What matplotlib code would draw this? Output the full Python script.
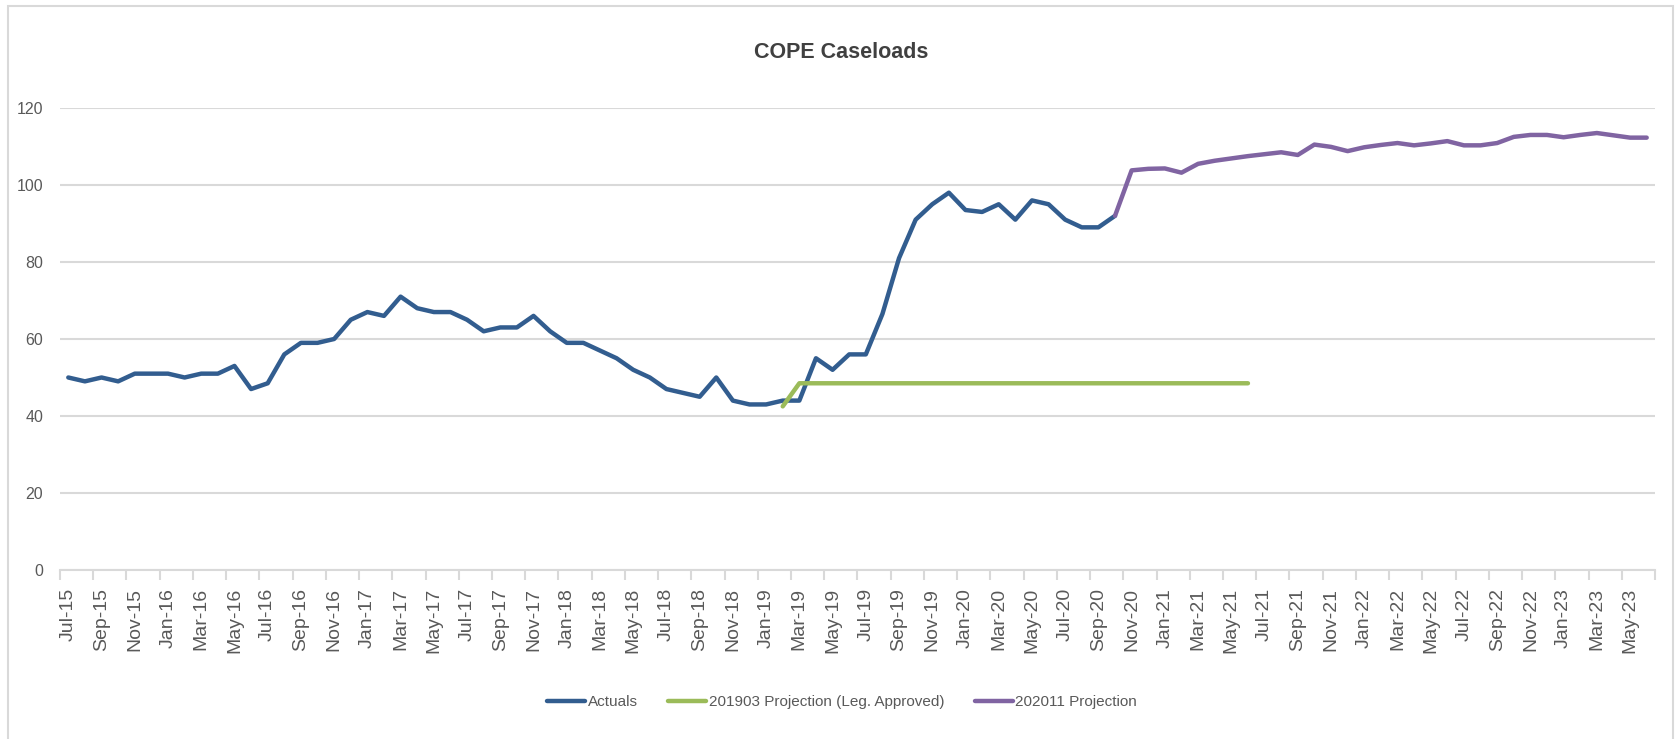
import matplotlib
matplotlib.use("Agg")
import matplotlib.pyplot as plt
import numpy as np
import pandas as pd
from matplotlib.patches import Rectangle

# monthly categories Jul-15 .. Jun-23
months = list(pd.date_range("2015-07-01", periods=96, freq="MS").strftime("%b-%y"))

# Actuals, Jul-15 .. Oct-20
actuals = [50, 49, 50, 49, 51, 51, 51, 50, 51, 51, 53, 47, 48.5, 56, 59, 59,
           60, 65, 67, 66, 71, 68, 67, 67, 65, 62, 63, 63, 66, 62, 59, 59,
           57, 55, 52, 50, 47, 46, 45, 50, 44, 43, 43, 44, 44, 55, 52, 56,
           56, 66.5, 81, 91, 95, 98, 93.5, 93, 95, 91, 96, 95, 91, 89, 89, 92]
actuals_start = "Jul-15"

# 201903 Projection (Leg. Approved), Feb-19 .. Jun-21
proj_2019 = [42.5, 48.5, 48.5, 48.5, 48.5, 48.5, 48.5, 48.5, 48.5, 48.5,
             48.5, 48.5, 48.5, 48.5, 48.5, 48.5, 48.5, 48.5, 48.5, 48.5,
             48.5, 48.5, 48.5, 48.5, 48.5, 48.5, 48.5, 48.5, 48.5]
proj_2019_start = "Feb-19"

# 202011 Projection, Oct-20 .. Jun-23
proj_2020 = [92, 103.8, 104.2, 104.3, 103.2, 105.5, 106.3, 106.9, 107.5, 108.0,
             108.5, 107.8, 110.5, 109.9, 108.8, 109.8, 110.4, 110.9, 110.3, 110.8,
             111.4, 110.3, 110.3, 110.9, 112.5, 113.0, 113.0, 112.4, 113.0, 113.5,
             112.9, 112.3, 112.3]
proj_2020_start = "Oct-20"

series_names = ["Actuals", "201903 Projection (Leg. Approved)", "202011 Projection"]
colors = ["#325D8F", "#9BBB59", "#8064A2"]
yticks = [0, 20, 40, 60, 80, 100, 120]

plt.rcParams['font.family'] = ['Liberation Sans', 'DejaVu Sans']

W, H = 1675, 739
fig = plt.figure(figsize=(W / 100, H / 100), dpi=100)
ax = fig.add_axes([60 / W, 1 - 570 / H, (1655 - 60) / W, (570 - 108) / H])

for vals, start, name, c in zip([actuals, proj_2019, proj_2020],
                                [actuals_start, proj_2019_start, proj_2020_start],
                                series_names, colors):
    i0 = months.index(start)
    x = np.arange(i0, i0 + len(vals))
    ax.plot(x, vals, color=c, lw=3.2, label=name, solid_capstyle='round',
            solid_joinstyle='round', zorder=3)

ax.set_xlim(-0.5, len(months) - 0.5)
ax.set_ylim(0, 120)
ax.set_yticks(yticks)
ax.yaxis.grid(True, color="#D9D9D9", lw=1.5)
ax.set_axisbelow(True)
for s in ["top", "right", "left"]:
    ax.spines[s].set_visible(False)
ax.spines["bottom"].set_color("#D9D9D9")
ax.spines["bottom"].set_linewidth(1.5)
ax.tick_params(axis="y", length=0, pad=12, labelsize=11.5, labelcolor="#595959")

# labels on every other month, ticks at category boundaries
ax.set_xticks(np.arange(0, len(months), 2))
ax.set_xticklabels(months[::2], rotation=90, fontsize=14, color="#595959")
ax.set_xticks(np.arange(-0.5, len(months), 2), minor=True)
ax.tick_params(axis="x", which="major", length=0, pad=13)
ax.tick_params(axis="x", which="minor", length=7, width=1.5, color="#D9D9D9")

fig.text(841 / W, 1 - 53 / H, "COPE Caseloads", ha="center", va="center",
         fontsize=15.5, fontweight="bold", color="#404040")

fig.legend(loc="center", bbox_to_anchor=(842 / W, 1 - 702 / H), ncol=3,
           frameon=False, fontsize=11, handlelength=2.5, columnspacing=2.0,
           handletextpad=0.15, labelcolor="#595959")

fig.patches.append(Rectangle((8 / W, -0.05), (1673 - 8) / W, 1.05 - 6 / H,
                             transform=fig.transFigure, fill=False,
                             edgecolor="#D9D9D9", lw=1.5))

fig.savefig("out.png", dpi=100)
